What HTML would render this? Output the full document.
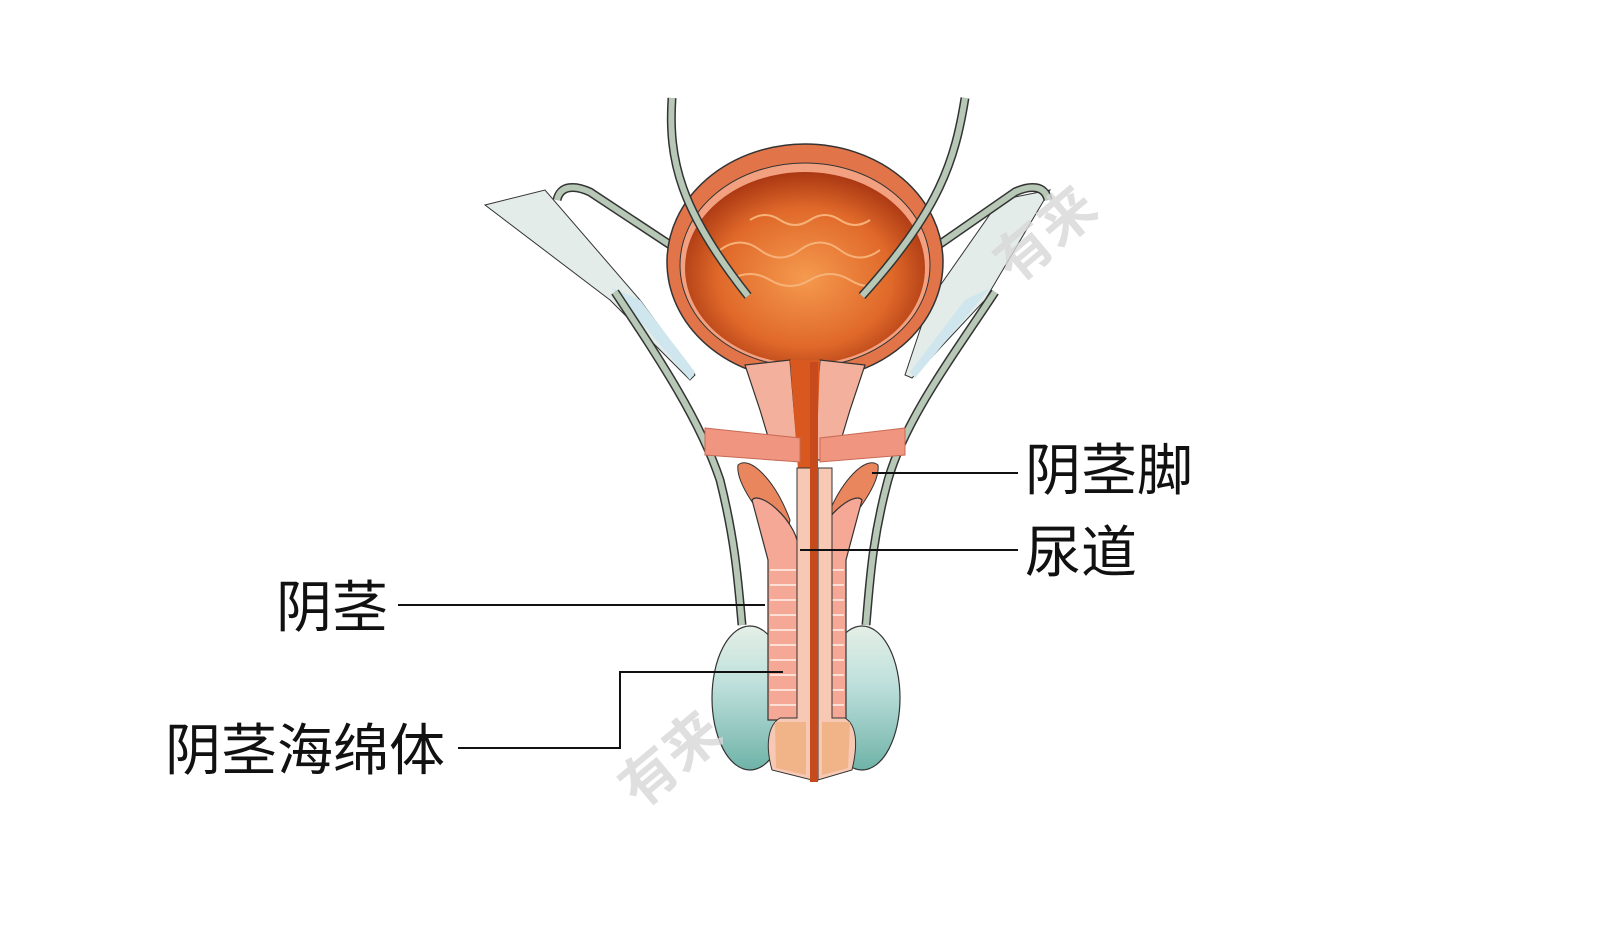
<!DOCTYPE html>
<html><head><meta charset="utf-8"><style>
html,body{margin:0;padding:0;background:#fff;}
svg{display:block}
text{font-family:"Liberation Sans","Noto Sans CJK SC",sans-serif;}
</style></head><body>
<svg width="1600" height="930" viewBox="0 0 1600 930" xmlns="http://www.w3.org/2000/svg">
<defs>
<radialGradient id="cav" cx="50%" cy="55%" r="60%">
<stop offset="0" stop-color="#f59a4e"/><stop offset="0.6" stop-color="#e0692a"/><stop offset="1" stop-color="#9b2a0c"/>
</radialGradient>
<linearGradient id="tes" x1="0" y1="0" x2="0" y2="1">
<stop offset="0" stop-color="#e4efe6"/><stop offset="0.4" stop-color="#bfe0dc"/><stop offset="1" stop-color="#6fb3a8"/>
</linearGradient>
</defs>
<!-- white ligament triangles -->
<polygon points="485,205 545,190 640,300 695,375 690,380 610,300" fill="#e3ece8" stroke="#333" stroke-width="1"/>
<polygon points="1050,190 1000,200 930,300 905,375 912,378 985,300" fill="#e3ece8" stroke="#333" stroke-width="1"/>
<polygon points="612,288 640,300 695,372 690,380" fill="#cfe6ee"/>
<polygon points="990,288 965,300 910,372 915,378" fill="#cfe6ee"/>
<!-- vas deferens lower -->
<path d="M615,292 C660,360 700,420 720,480 C735,540 738,580 742,625" fill="none" stroke="#333" stroke-width="9"/>
<path d="M615,292 C660,360 700,420 720,480 C735,540 738,580 742,625" fill="none" stroke="#b7c8b6" stroke-width="6"/>
<path d="M995,292 C950,360 905,420 888,480 C872,540 870,580 866,625" fill="none" stroke="#333" stroke-width="9"/>
<path d="M995,292 C950,360 905,420 888,480 C872,540 870,580 866,625" fill="none" stroke="#b7c8b6" stroke-width="6"/>
<!-- vas upper -->
<path d="M557,200 C560,185 575,185 590,192 L690,258" fill="none" stroke="#333" stroke-width="9"/>
<path d="M557,200 C560,185 575,185 590,192 L690,258" fill="none" stroke="#b7c8b6" stroke-width="6"/>
<path d="M1048,200 C1045,185 1030,185 1015,192 L920,258" fill="none" stroke="#333" stroke-width="9"/>
<path d="M1048,200 C1045,185 1030,185 1015,192 L920,258" fill="none" stroke="#b7c8b6" stroke-width="6"/>
<!-- bladder -->
<ellipse cx="805" cy="262" rx="138" ry="118" fill="#e2744a" stroke="#333" stroke-width="1.5"/>
<ellipse cx="805" cy="265" rx="125" ry="102" fill="#f3a080" stroke="#333" stroke-width="1"/>
<ellipse cx="805" cy="268" rx="120" ry="96" fill="url(#cav)"/>
<path d="M720,250 q20,-15 40,0 t40,0 t40,0 t40,0 M730,280 q20,-12 40,0 t40,0 t40,0 t30,0 M750,220 q15,-10 30,0 t30,0 t30,0 t30,0" fill="none" stroke="#f7b27a" stroke-width="2"/>
<!-- neck / prostate -->
<path d="M745,365 L790,360 L795,420 L800,460 L775,460 L760,410 Z" fill="#f3b09c" stroke="#333" stroke-width="1.2"/>
<path d="M865,365 L820,360 L815,420 L810,460 L835,460 L850,410 Z" fill="#f3b09c" stroke="#333" stroke-width="1.2"/>
<path d="M790,360 L820,360 L816,470 L798,470 Z" fill="#d9581f"/>
<!-- ureters -->
<path d="M672,98 C668,160 680,210 748,296" fill="none" stroke="#333" stroke-width="9"/>
<path d="M672,98 C668,160 680,210 748,296" fill="none" stroke="#b7c8b6" stroke-width="6"/>
<path d="M965,98 C955,160 940,210 862,296" fill="none" stroke="#333" stroke-width="9"/>
<path d="M965,98 C955,160 940,210 862,296" fill="none" stroke="#b7c8b6" stroke-width="6"/>
<!-- diaphragm band -->
<path d="M705,428 L800,438 L800,462 L705,455 Z" fill="#f09580" stroke="#c86a55" stroke-width="1"/>
<path d="M905,428 L820,438 L820,462 L905,455 Z" fill="#f09580" stroke="#c86a55" stroke-width="1"/>
<!-- testes -->
<ellipse cx="750" cy="698" rx="38" ry="72" fill="url(#tes)" stroke="#333" stroke-width="1.2"/>
<ellipse cx="862" cy="698" rx="38" ry="72" fill="url(#tes)" stroke="#333" stroke-width="1.2"/>
<!-- crura -->
<path d="M738,465 C750,455 775,480 790,520 L785,545 C765,520 735,485 738,465 Z" fill="#e9865e" stroke="#333" stroke-width="1"/>
<path d="M878,465 C866,455 841,480 826,520 L831,545 C851,520 881,485 878,465 Z" fill="#e9865e" stroke="#333" stroke-width="1"/>
<!-- corpora cavernosa -->
<path d="M752,500 C760,490 795,520 798,545 L798,720 L768,720 L768,560 Z" fill="#f6a896" stroke="#333" stroke-width="1.2"/>
<path d="M862,500 C854,490 819,520 816,545 L816,720 L846,720 L846,560 Z" fill="#f6a896" stroke="#333" stroke-width="1.2"/>
<g stroke="#fce0d6" stroke-width="2">
<line x1="770" y1="570" x2="796" y2="570"/><line x1="770" y1="585" x2="796" y2="585"/><line x1="770" y1="600" x2="796" y2="600"/><line x1="770" y1="615" x2="796" y2="615"/><line x1="770" y1="630" x2="796" y2="630"/><line x1="770" y1="645" x2="796" y2="645"/><line x1="770" y1="660" x2="796" y2="660"/><line x1="770" y1="675" x2="796" y2="675"/><line x1="770" y1="690" x2="796" y2="690"/><line x1="770" y1="705" x2="796" y2="705"/>
<line x1="818" y1="570" x2="844" y2="570"/><line x1="818" y1="585" x2="844" y2="585"/><line x1="818" y1="600" x2="844" y2="600"/><line x1="818" y1="615" x2="844" y2="615"/><line x1="818" y1="630" x2="844" y2="630"/><line x1="818" y1="645" x2="844" y2="645"/><line x1="818" y1="660" x2="844" y2="660"/><line x1="818" y1="675" x2="844" y2="675"/><line x1="818" y1="690" x2="844" y2="690"/><line x1="818" y1="705" x2="844" y2="705"/>
</g>
<!-- spongiosum -->
<path d="M797,468 L812,468 L812,780 L772,770 C765,745 768,725 780,718 L797,718 Z" fill="#f7c8b4" stroke="#333" stroke-width="1"/>
<path d="M818,468 L832,468 L832,718 L845,718 C857,725 858,745 852,770 L818,780 Z" fill="#f7c8b4" stroke="#333" stroke-width="1"/>
<path d="M775,722 L806,722 L806,775 L776,768 Z M822,722 L850,722 L848,768 L822,775 Z" fill="#f0b488"/>
<!-- urethra -->
<rect x="810" y="362" width="8" height="420" fill="#c74a1c"/>
<!-- watermarks -->
<text x="0" y="0" font-size="56" font-weight="bold" fill="#d8d8d8" opacity="0.8" transform="translate(1015,285) rotate(-40)">有来</text>
<text x="0" y="0" font-size="56" font-weight="bold" fill="#d8d8d8" opacity="0.8" transform="translate(640,810) rotate(-40)">有来</text>
<!-- leader lines -->
<g stroke="#111" stroke-width="2" fill="none">
<line x1="1018" y1="473" x2="872" y2="473"/>
<line x1="1018" y1="550" x2="800" y2="550"/>
<line x1="398" y1="605" x2="765" y2="605"/>
<polyline points="458,748 620,748 620,672 783,672"/>
</g>
<text x="1025" y="490" font-size="56" fill="#111">阴茎脚</text>
<text x="1025" y="572" font-size="56" fill="#111">尿道</text>
<text x="276" y="627" font-size="56" fill="#111">阴茎</text>
<text x="165" y="770" font-size="56" fill="#111">阴茎海绵体</text>
</svg>
</body></html>
